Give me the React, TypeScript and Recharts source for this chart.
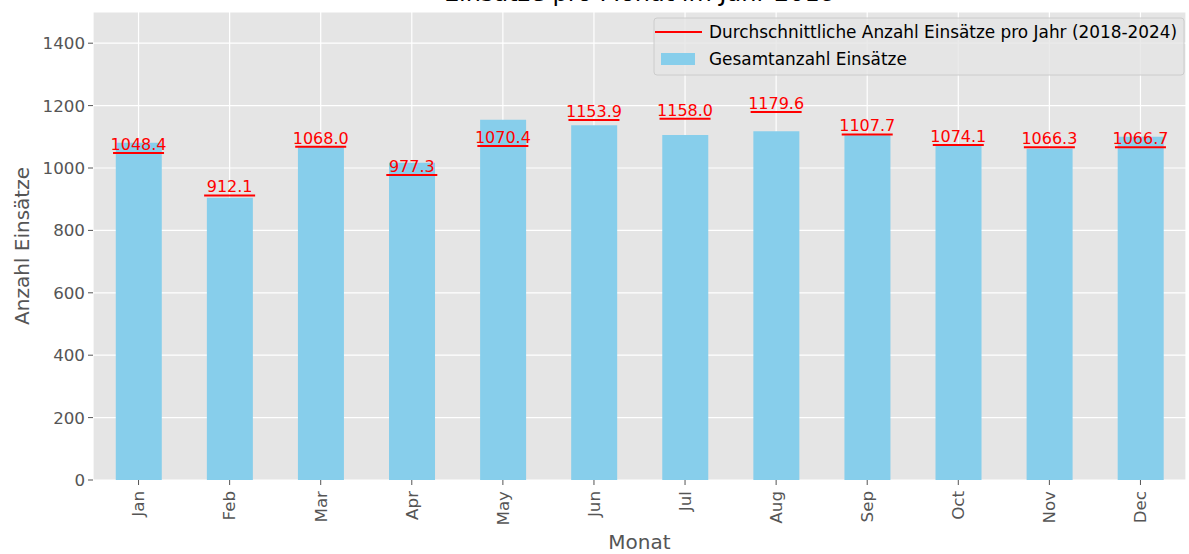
import React from "react"
import { ComposedChart, Bar, Line, XAxis, YAxis, CartesianGrid } from "recharts"

// Einsätze je Monat
const months = ["Jan", "Feb", "Mar", "Apr", "May", "Jun", "Jul", "Aug", "Sep", "Oct", "Nov", "Dec"]
const totals = [1081, 905, 1070, 1017, 1155, 1137, 1106, 1118, 1105, 1072, 1062, 1100]
const averages = [1048.4, 912.1, 1068.0, 977.3, 1070.4, 1153.9, 1158.0, 1179.6, 1107.7, 1074.1, 1066.3, 1066.7]
const yTicks = [0, 200, 400, 600, 800, 1000, 1200, 1400]

const data = months.map((m, i) => ({ month: m, total: totals[i], avg: averages[i] }))

const W = 1189
const H = 554
const PLOT_LEFT = 93
const PLOT_RIGHT = 1186
const PLOT_TOP = 12
const PLOT_BOTTOM = 480
const FONT = "'DejaVu Sans', sans-serif"
const GRAY = "#555555"

// half width of the red marker, a bit more than half the bar
const halfLine = ((PLOT_RIGHT - PLOT_LEFT) / months.length) * 0.28

function AvgMarker(props: any) {
  const { cx, cy, payload, index } = props
  if (cx == null || cy == null) return null
  return (
    <g key={`avg-${index}`}>
      <line x1={cx - halfLine} x2={cx + halfLine} y1={cy} y2={cy} stroke="#FF0000" strokeWidth={2} />
      <text x={cx} y={cy - 3} textAnchor="middle" fill="#FF0000" fontSize={16} fontFamily={FONT}>
        {payload.avg.toFixed(1)}
      </text>
    </g>
  )
}

function MonthTick(props: any) {
  const { x, y, payload } = props
  return (
    <g transform={`translate(${x},${y})`}>
      <text transform="rotate(-90)" x={-2} y={0} dy="0.35em" textAnchor="end" fill={GRAY} fontSize={16.7} fontFamily={FONT}>
        {payload.value}
      </text>
    </g>
  )
}

export default function App() {
  return (
    <div style={{ position: "absolute", left: 0, top: 0, width: W, height: H, background: "#fff", fontFamily: FONT }}>
      <ComposedChart
        width={W}
        height={H}
        data={data}
        margin={{ top: PLOT_TOP, right: W - PLOT_RIGHT, left: 0, bottom: 0 }}
        barCategoryGap="25%"
      >
        <CartesianGrid stroke="#ffffff" strokeWidth={1.2} fill="#E5E5E5" fillOpacity={1} />
        <XAxis
          dataKey="month"
          height={H - PLOT_BOTTOM}
          axisLine={false}
          tickLine={{ stroke: GRAY }}
          tickSize={5}
          tickMargin={4}
          interval={0}
          tick={<MonthTick />}
        />
        <YAxis
          width={PLOT_LEFT}
          domain={[0, 1500]}
          ticks={yTicks}
          axisLine={false}
          tickLine={{ stroke: GRAY }}
          tickSize={5}
          tickMargin={3}
          tick={{ fill: GRAY, fontSize: 16.7, fontFamily: FONT }}
        />
        <Bar dataKey="total" fill="#87CEEB" isAnimationActive={false} />
        <Line dataKey="avg" stroke="none" dot={AvgMarker} activeDot={false} isAnimationActive={false} />
      </ComposedChart>

      <svg width={W} height={H} style={{ position: "absolute", left: 0, top: 0, pointerEvents: "none" }}>
        <text x={(PLOT_LEFT + PLOT_RIGHT) / 2} y={0.8} textAnchor="middle" fontSize={24} fontFamily={FONT} fill="#000">
          Einsätze pro Monat im Jahr 2018
        </text>
        <text x={(PLOT_LEFT + PLOT_RIGHT) / 2} y={549} textAnchor="middle" fontSize={20} fontFamily={FONT} fill={GRAY}>
          Monat
        </text>
        <text
          transform={`translate(29, ${(PLOT_TOP + PLOT_BOTTOM) / 2}) rotate(-90)`}
          textAnchor="middle"
          fontSize={20}
          fontFamily={FONT}
          fill={GRAY}
        >
          Anzahl Einsätze
        </text>

        <rect x={654} y={18} width={530} height={57} rx={3} fill="#E5E5E5" fillOpacity={0.8} stroke="#cccccc" />
        <line x1={655} x2={702} y1={32} y2={32} stroke="#FF0000" strokeWidth={2} />
        <text x={709} y={38} fontSize={16.9} fontFamily={FONT} fill="#000">
          Durchschnittliche Anzahl Einsätze pro Jahr (2018-2024)
        </text>
        <rect x={661} y={53} width={34} height={12} fill="#87CEEB" />
        <text x={709} y={65} fontSize={16.9} fontFamily={FONT} fill="#000">
          Gesamtanzahl Einsätze
        </text>
      </svg>
    </div>
  )
}
